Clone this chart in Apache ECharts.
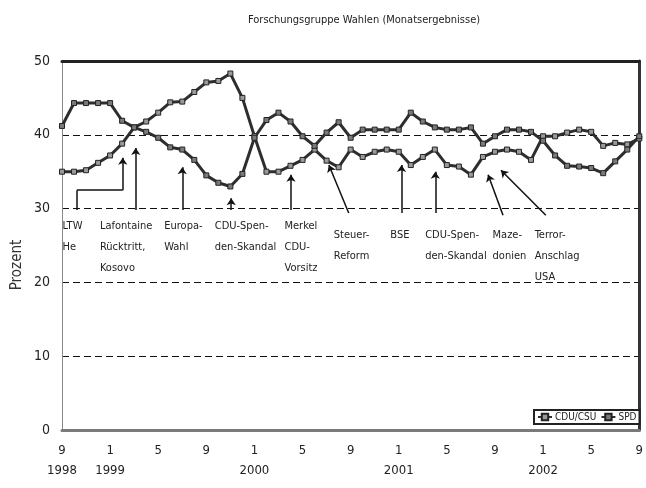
<!DOCTYPE html>
<html>
<head>
<meta charset="utf-8">
<script src="https://cdn.jsdelivr.net/npm/echarts@6/dist/echarts.min.js"></script>
<style>
  html, body { margin: 0; padding: 0; background: #fff; }
  #container { width: 646px; height: 488px; }
</style>
</head>
<body>
<div id="container"></div>
<script>
var FONT = "'Liberation Sans Narrow', 'DejaVu Sans Condensed', 'Liberation Sans', sans-serif";

// month index 0 = Sept 1998 ... 48 = Sept 2002
var monthLabels = {0: '9', 4: '1', 8: '5', 12: '9', 16: '1', 20: '5', 24: '9', 28: '1', 32: '5', 36: '9', 40: '1', 44: '5', 48: '9'};
var yearLabels = {0: '1998', 4: '1999', 16: '2000', 28: '2001', 40: '2002'};

var cdu = [35, 35, 35.2, 36.2, 37.2, 38.8, 41, 41.8, 43, 44.4,
           44.5, 45.8, 47.1, 47.3, 48.3, 45, 39.8, 35, 35, 35.8,
           36.6, 38, 36.5, 35.6, 38, 37, 37.7, 38, 37.7, 35.9,
           37, 38, 35.9, 35.7, 34.6, 37, 37.7, 38, 37.7, 36.6,
           39.8, 39.8, 40.3, 40.7, 40.4, 38.5, 38.9, 38.7, 39.5];
var spd = [41.2, 44.3, 44.3, 44.3, 44.3, 41.9, 41, 40.4, 39.6, 38.3,
           38, 36.6, 34.5, 33.5, 33, 34.7, 39.6, 42, 43, 41.8,
           39.8, 38.5, 40.3, 41.7, 39.6, 40.7, 40.7, 40.7, 40.7, 43,
           41.8, 41, 40.7, 40.7, 41, 38.8, 39.8, 40.7, 40.7, 40.4,
           39.2, 37.2, 35.8, 35.7, 35.5, 34.8, 36.4, 38, 39.8];

// event notes: text block top-left in (month index, percent)
var noteTexts = ['LTW\nHe', 'Lafontaine\nRücktritt,\nKosovo', 'Europa-\nWahl', 'CDU-Spen-\nden-Skandal',
                 'Merkel\nCDU-\nVorsitz', 'Steuer-\nReform', 'BSE', 'CDU-Spen-\nden-Skandal',
                 'Maze-\ndonien', 'Terror-\nAnschlag\nUSA'];
var noteX = [0.05, 3.15, 8.5, 12.7, 18.5, 22.6, 27.3, 30.2, 35.8, 39.3];
var noteY = [29.1, 29.1, 29.1, 29.1, 29.0, 27.8, 27.8, 27.8, 27.8, 27.8];

// arrow segments [x1, y1, x2, y2, withHead]
var arrows = [
  [1.24, 29.8, 1.24, 32.5, 0],
  [1.24, 32.5, 5.05, 32.5, 0],
  [5.05, 32.5, 5.05, 36.9, 1],
  [6.13, 29.8, 6.13, 38.2, 1],
  [10.0, 29.8, 10.0, 35.6, 1],
  [14.07, 29.8, 14.07, 31.4, 1],
  [19.04, 29.8, 19.04, 34.6, 1],
  [23.84, 29.4, 22.19, 35.9, 1],
  [28.23, 29.4, 28.23, 35.9, 1],
  [31.04, 29.4, 31.04, 35.0, 1],
  [36.67, 29.1, 35.43, 34.6, 1],
  [40.23, 29.1, 36.5, 35.2, 1]
];

function pairs(arr) {
  return arr.map(function (v, i) { return [i, v]; });
}

var dom = document.getElementById('container');
var myChart = echarts.init(dom, null, { renderer: 'canvas' });

var lineData = arrows.map(function (a) {
  return [
    { coord: [a[0], a[1]], symbol: 'none' },
    { coord: [a[2], a[3]], symbol: a[4] ? 'arrow' : 'none', symbolSize: 7 }
  ];
});
var pointData = noteTexts.map(function (t, i) {
  return { coord: [noteX[i], noteY[i]], value: t };
});

var seriesStyle = function (name, data, markerColor) {
  return {
    name: name,
    type: 'line',
    data: pairs(data),
    symbol: 'rect',
    symbolSize: 5,
    lineStyle: { color: '#2e2e2e', width: 3 },
    itemStyle: { color: markerColor, borderColor: '#222', borderWidth: 1 },
    color: '#2e2e2e',
    animation: false
  };
};

var cduSeries = seriesStyle('CDU/CSU', cdu, '#9a9a9a');
cduSeries.markLine = {
  silent: true,
  animation: false,
  symbol: ['none', 'arrow'],
  label: { show: false },
  lineStyle: { color: '#111', width: 1.5, type: 'solid' },
  data: lineData
};
cduSeries.markPoint = {
  silent: true,
  animation: false,
  symbol: 'circle',
  symbolSize: 0,
  label: {
    show: true,
    position: [0, 0],
    align: 'left',
    verticalAlign: 'top',
    formatter: function (p) { return p.value; },
    fontFamily: FONT,
    fontSize: 11,
    lineHeight: 21,
    color: '#222'
  },
  data: pointData
};
var spdSeries = seriesStyle('SPD', spd, '#7a7a7a');

var option = {
  backgroundColor: '#fff',
  textStyle: { fontFamily: FONT },
  title: {
    text: 'Forschungsgruppe Wahlen (Monatsergebnisse)',
    left: 243,
    top: 10,
    textStyle: { fontFamily: FONT, fontSize: 11, fontWeight: 'normal', color: '#222' }
  },
  legend: {
    data: ['CDU/CSU', 'SPD'],
    left: 534,
    top: 410,
    orient: 'horizontal',
    backgroundColor: '#fff',
    borderColor: '#222',
    borderWidth: 2,
    borderRadius: 0,
    padding: [2, 3],
    itemWidth: 14,
    itemHeight: 8,
    itemGap: 4,
    textStyle: { fontFamily: FONT, fontSize: 10, color: '#222', padding: [0, 0, 0, -2] }
  },
  grid: { left: 62, right: 4, top: 61, bottom: 58 },
  xAxis: [
    {
      type: 'value', position: 'bottom', min: 0, max: 48, interval: 4,
      axisLine: { show: true, onZero: false, lineStyle: { color: '#7a7a7a', width: 3 } },
      axisTick: { show: false },
      splitLine: { show: false },
      axisLabel: {
        margin: 11,
        fontFamily: FONT,
        fontSize: 13,
        color: '#222',
        lineHeight: 20,
        formatter: function (v) {
          var m = monthLabels[v] || '';
          var y = yearLabels[v];
          return y ? m + '\n' + y : m;
        }
      }
    },
    {
      type: 'value', position: 'top', min: 0, max: 48, interval: 4,
      axisLine: { show: true, onZero: false, lineStyle: { color: '#222', width: 3 } },
      axisTick: { show: false },
      axisLabel: { show: false },
      splitLine: { show: false }
    }
  ],
  yAxis: [
    {
      type: 'value', position: 'left', min: 0, max: 50, interval: 10,
      axisLine: { show: true, onZero: false, lineStyle: { color: '#888', width: 1 } },
      axisTick: { show: false },
      axisLabel: { margin: 12, fontFamily: FONT, fontSize: 14, color: '#222' },
      splitLine: { show: true, lineStyle: { color: '#111', width: 1, type: [7, 4] } }
    },
    {
      type: 'value', position: 'right', min: 0, max: 50, interval: 10,
      axisLine: { show: true, onZero: false, lineStyle: { color: '#333', width: 3 } },
      axisTick: { show: false },
      axisLabel: { show: false },
      splitLine: { show: false }
    }
  ],
  graphic: [
    {
      type: 'text',
      x: 17,
      y: 265,
      rotation: Math.PI / 2,
      style: {
        text: 'Prozent',
        fontFamily: FONT,
        fontSize: 15,
        fill: '#333',
        align: 'center',
        verticalAlign: 'middle'
      }
    }
  ],
  series: [cduSeries, spdSeries]
};

if (option && typeof option === 'object') {
  myChart.setOption(option);
}

window.addEventListener('resize', myChart.resize);
</script>
</body>
</html>
